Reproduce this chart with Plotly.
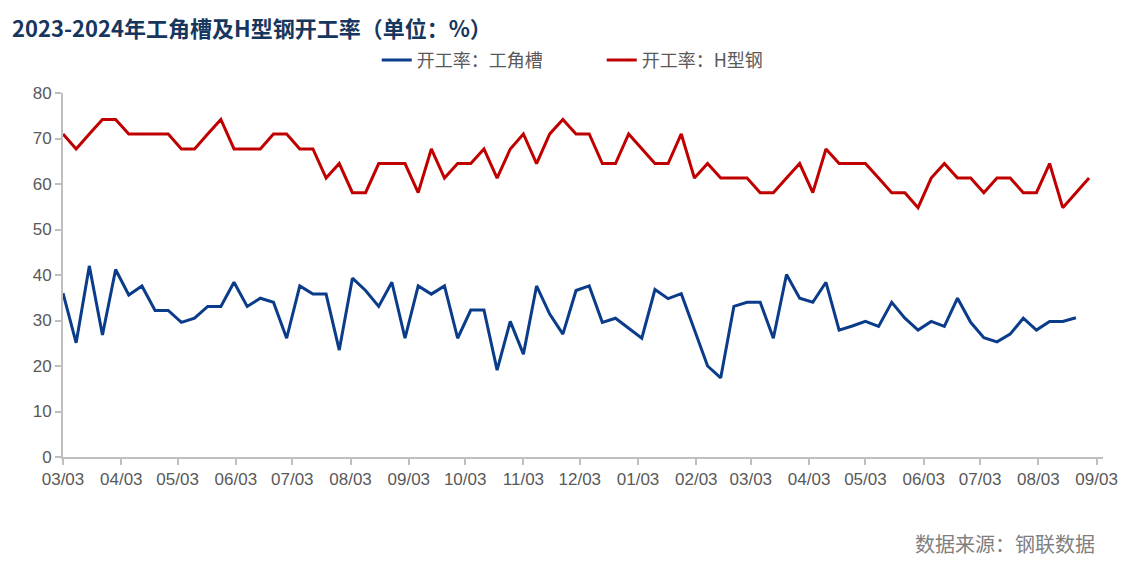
import pandas as pd
import plotly.graph_objects as go

# Weekly dates (Fridays) starting 2023-03-03
dates_h = pd.date_range("2023-03-03", periods=79, freq="7D")
dates_angle = dates_h[:78]

# 开工率：工角槽 (%)
angle_channel = [
    36.0, 25.1, 42.0, 26.8, 41.2, 35.6, 37.6, 32.2, 32.2, 29.6,
    30.5, 33.1, 33.1, 38.4, 33.1, 34.9, 34.0, 26.1, 37.6, 35.8,
    35.8, 23.5, 39.3, 36.6, 33.1, 38.4, 26.1, 37.6, 35.8, 37.6,
    26.1, 32.3, 32.3, 19.1, 29.8, 22.6, 37.6, 31.4, 27.0, 36.6,
    37.6, 29.6, 30.5, 28.4, 26.1, 36.8, 34.8, 35.9, 27.9, 20.0,
    17.4, 33.1, 34.0, 34.0, 26.1, 40.1, 34.9, 34.0, 38.4, 27.9,
    28.8, 29.8, 28.7, 34.0, 30.5, 27.9, 29.8, 28.7, 34.9, 29.6,
    26.2, 25.3, 27.0, 30.5, 27.9, 29.8, 29.8, 30.6,
]

# 开工率：H型钢 (%)
h_beam = [
    71.0, 67.7, 71.0, 74.2, 74.2, 71.0, 71.0, 71.0, 71.0, 67.7,
    67.7, 71.0, 74.2, 67.7, 67.7, 67.7, 71.0, 71.0, 67.7, 67.7,
    61.3, 64.5, 58.1, 58.1, 64.5, 64.5, 64.5, 58.1, 67.7, 61.3,
    64.5, 64.5, 67.7, 61.3, 67.7, 71.0, 64.5, 71.0, 74.2, 71.0,
    71.0, 64.5, 64.5, 71.0, 67.7, 64.5, 64.5, 71.0, 61.3, 64.5,
    61.3, 61.3, 61.3, 58.1, 58.1, 61.3, 64.5, 58.1, 67.7, 64.5,
    64.5, 64.5, 61.3, 58.1, 58.1, 54.8, 61.3, 64.5, 61.3, 61.3,
    58.1, 61.3, 61.3, 58.1, 58.1, 64.5, 54.8, 58.1, 61.3,
]

y_ticks = [0, 10, 20, 30, 40, 50, 60, 70, 80]

title_text = "2023-2024年工角槽及H型钢开工率（单位：%）"
source_text = "数据来源：钢联数据"
names = ["开工率：工角槽", "开工率：H型钢"]

BLUE = "#0A3C8A"
RED = "#C00000"
AXIS = "#BFBFBF"
TXT = "#595959"

fig = go.Figure()
fig.add_trace(go.Scatter(x=dates_angle, y=angle_channel, mode="lines", name=names[0],
                         line=dict(color=BLUE, width=3)))
fig.add_trace(go.Scatter(x=dates_h, y=h_beam, mode="lines", name=names[1],
                         line=dict(color=RED, width=3)))

fig.update_layout(
    width=1134, height=565,
    margin=dict(l=63, r=31, t=93, b=108),
    paper_bgcolor="white", plot_bgcolor="white",
    font=dict(family="Noto Sans CJK SC, Liberation Sans, sans-serif", color=TXT),
    showlegend=True,
    legend=dict(orientation="h", x=0.518, xanchor="center", y=1.09, yanchor="middle",
                font=dict(size=18, color=TXT, family="Noto Sans CJK SC"),
                entrywidth=180, entrywidthmode="pixels"),
    annotations=[
        dict(text="<b>" + title_text + "</b>", xref="paper", yref="paper",
             x=-53/1040, xanchor="left", y=1 + 66/363.5, yanchor="middle",
             showarrow=False,
             font=dict(size=22, color="#17365D", family="Noto Sans CJK SC")),
        dict(text=source_text, xref="paper", yref="paper",
             x=(1097-63)/1040, xanchor="right", y=-(543-456.5)/363.5, yanchor="middle",
             showarrow=False,
             font=dict(size=20, color="#7F7F7F", family="Noto Sans CJK SC")),
    ],
)

fig.update_xaxes(
    type="date",
    range=["2023-03-03", "2024-09-06 10:00"],
    tick0="2023-03-03", dtick="M1", tickformat="%m/%d",
    showline=True, linecolor=AXIS, linewidth=2,
    ticks="outside", ticklen=6, tickcolor=AXIS, tickwidth=2,
    showgrid=False, zeroline=False,
    tickfont=dict(size=17, color=TXT, family="Liberation Sans"),
)
fig.update_yaxes(
    range=[0, 80], tickvals=y_ticks,
    showline=True, linecolor=AXIS, linewidth=2,
    ticks="outside", ticklen=6, tickcolor=AXIS, tickwidth=2,
    showgrid=False, zeroline=False,
    tickfont=dict(size=17, color=TXT, family="Liberation Sans"),
)

fig.write_html("out.html")
